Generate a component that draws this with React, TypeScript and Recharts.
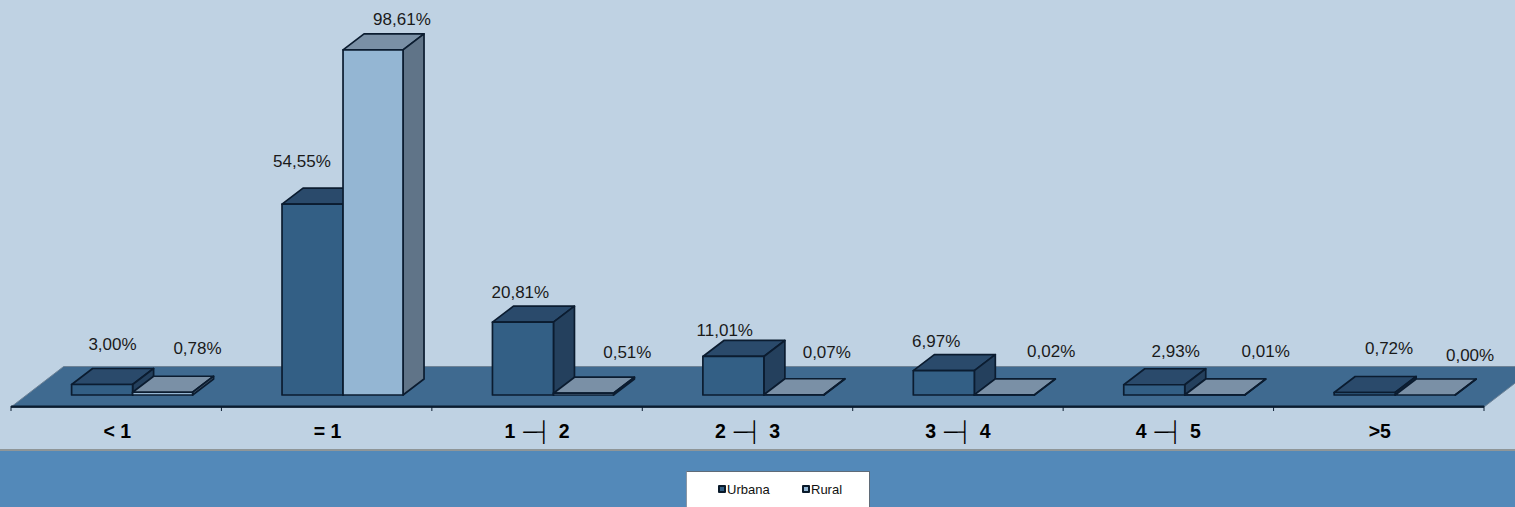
import React from "react";
import { ComposedChart, Bar, XAxis, YAxis, Legend, LabelList, ReferenceArea } from "recharts";

const categories = ["< 1", "= 1", "1 ─┤ 2", "2 ─┤ 3", "3 ─┤ 4", "4 ─┤ 5", ">5"];
const seriesNames = ["Urbana", "Rural"];
const urbana = [3.0, 54.55, 20.81, 11.01, 6.97, 2.93, 0.72];
const rural = [0.78, 98.61, 0.51, 0.07, 0.02, 0.01, 0.0];
const urbanaNudgeX = [27, 6, 14, 8, 9, 38, 41];
const urbanaNudgeY = [-40, -43, -30, -26, -29, -33, -44];
const ruralNudgeX = [51, 45, 60, 49, 63, 67, 61];
const ruralNudgeY = [-44, -30, -41, -42, -43, -43, -39];

const rows = categories.map((c, i) => ({ category: c, Urbana: urbana[i], Rural: rural[i] }));

const INK = "#0b1c30";
const FONT = "'Liberation Sans', Arial, sans-serif";
const DEPTH_X = 21;
const DEPTH_Y = 16;
const SHIFT_X = 16.6;
const PLOT_WIDTH = 1473;

const faces = {
  Urbana: { front: "#335f85", top: "#2a4a6b", side: "#24405d", trim: 0 },
  Rural: { front: "#94b6d3", top: "#7a90a6", side: "#607488", trim: 1 },
};

function box(kind: "Urbana" | "Rural") {
  return (p: any) => {
    const c = faces[kind];
    const x = p.x + SHIFT_X;
    const y = p.y;
    const w = p.width - c.trim;
    const h = Math.max(p.height, 0);
    return (
      <g stroke={INK} strokeWidth={1.7} strokeLinejoin="round">
        <path d={`M${x},${y}L${x + DEPTH_X},${y - DEPTH_Y}L${x + w + DEPTH_X},${y - DEPTH_Y}L${x + w},${y}Z`} fill={c.top} />
        <path d={`M${x + w},${y}L${x + w + DEPTH_X},${y - DEPTH_Y}L${x + w + DEPTH_X},${y + h - DEPTH_Y}L${x + w},${y + h}Z`} fill={c.side} />
        <rect x={x} y={y} width={w} height={h} fill={c.front} />
      </g>
    );
  };
}

function floor(p: any) {
  const { x, y, width, height } = p;
  const dx = (height * 52) / 40;
  return (
    <g>
      <path
        d={`M${x},${y + height}L${x + dx},${y}L${x + width + dx},${y}L${x + width},${y + height}Z`}
        fill="#3f6a90"
        stroke="#6d8296"
        strokeWidth={1}
      />
      <line x1={x} x2={x + width} y1={y + height - 0.5} y2={y + height - 0.5} stroke={INK} strokeWidth={2} />
    </g>
  );
}

function label(nx: number[], ny: number[]) {
  return (p: any) => {
    const i = p.index;
    return (
      <text
        x={p.x + p.width / 2 + nx[i]}
        y={p.y + ny[i]}
        textAnchor="middle"
        dominantBaseline="central"
        fontFamily={FONT}
        fontSize={17}
        fill="#1a1a1a"
      >
        {Number(p.value).toFixed(2).replace(".", ",")}%
      </text>
    );
  };
}

function CategoryTick(p: any) {
  const band = PLOT_WIDTH / categories.length;
  const left = p.x - band / 2;
  const last = p.index === categories.length - 1;
  const isRange = String(p.payload.value).split(" ").length > 2;
  return (
    <g>
      <line x1={left} x2={left} y1={p.y - 1} y2={p.y + 4} stroke={INK} strokeWidth={1} />
      {last && <line x1={left + band} x2={left + band} y1={p.y - 1} y2={p.y + 4} stroke={INK} strokeWidth={1} />}
      <text
        x={p.x + (isRange ? 0 : 1)}
        y={p.y + 31}
        textAnchor="middle"
        fontFamily={FONT}
        fontSize={19.5}
        fontWeight={700}
        fill="#000"
        style={{ wordSpacing: isRange ? 2.5 : 0 }}
      >
        {p.payload.value}
      </text>
    </g>
  );
}

function LegendBox(props: any) {
  const offsets = [31, 115];
  const items = seriesNames.map((n) => (props.payload || []).find((e: any) => e.value === n)).filter(Boolean);
  return (
    <div
      style={{
        position: "relative",
        width: 184,
        height: 36,
        boxSizing: "border-box",
        background: "#fff",
        borderTop: "1px solid #5f6b78",
        borderLeft: "1px solid #8a97a5",
        borderRight: "1px solid #5f6b78",
        fontFamily: FONT,
        fontSize: 13,
        color: "#111",
      }}
    >
      {items.map((e: any, i: number) => (
        <div key={e.value} style={{ position: "absolute", left: offsets[i], top: 9, display: "flex", alignItems: "center", height: 16 }}>
          <span
            style={{
              display: "inline-block",
              width: 4,
              height: 4,
              border: "2px solid #0a1a2a",
              borderRadius: 1,
              background: e.color,
              marginRight: 1,
            }}
          />
          <span>{e.value}</span>
        </div>
      ))}
    </div>
  );
}

export default function App() {
  return (
    <div style={{ position: "absolute", left: 0, top: 0, width: 1515, height: 507, overflow: "hidden", background: "#bfd2e3" }}>
      <div style={{ position: "absolute", left: 0, top: 449, width: 1515, height: 58, background: "#5389b9", borderTop: "2px solid #8f9698", boxSizing: "border-box" }} />
      <div style={{ position: "absolute", left: 0, top: 0 }}>
        <ComposedChart
          width={1515}
          height={507}
          data={rows}
          margin={{ top: 0, right: 31, bottom: 70, left: 11 }}
          barSize={61}
          barGap={0}
        >
          <XAxis
            dataKey="category"
            height={30}
            interval={0}
            axisLine={{ stroke: INK, strokeWidth: 1.5 }}
            tickLine={false}
            tickSize={0}
            tickMargin={0}
            tick={<CategoryTick />}
          />
          <YAxis hide type="number" domain={[-3.43, 112.86]} allowDataOverflow />
          <ReferenceArea y1={-3.43} y2={8.14} shape={floor} fillOpacity={1} />
          <Bar dataKey="Urbana" fill={faces.Urbana.front} shape={box("Urbana")} isAnimationActive={false}>
            <LabelList dataKey="Urbana" content={label(urbanaNudgeX, urbanaNudgeY)} />
          </Bar>
          <Bar dataKey="Rural" fill={faces.Rural.front} shape={box("Rural")} isAnimationActive={false}>
            <LabelList dataKey="Rural" content={label(ruralNudgeX, ruralNudgeY)} />
          </Bar>
          <Legend
            verticalAlign="middle"
            content={<LegendBox />}
            wrapperStyle={{ position: "absolute", left: 686, top: 471, width: 184, height: 36, margin: 0 }}
          />
        </ComposedChart>
      </div>
    </div>
  );
}
